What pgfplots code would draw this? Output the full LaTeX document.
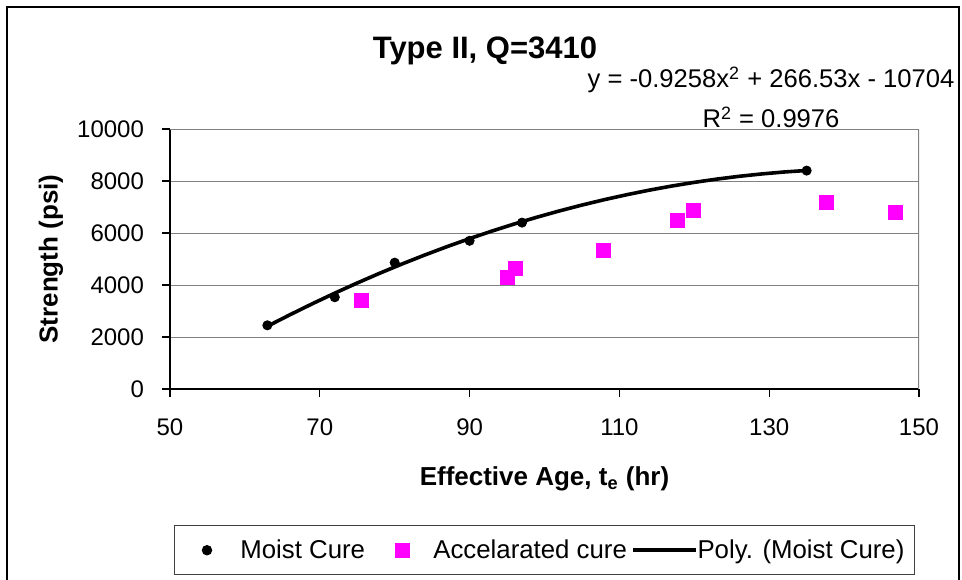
\documentclass[border=0pt]{standalone}
\usepackage{fontspec}
\setmainfont{Liberation Sans}
\usepackage{pgfplots}
\pgfplotsset{compat=1.18}
\definecolor{accel}{RGB}{255,0,255}
\definecolor{gridc}{RGB}{128,128,128}

% Moist-cure cylinders
\pgfplotstableread{
x y
63 2450
72 3530
80 4860
90 5700
97 6400
135 8400
}\moist

% Accelerated-cure cylinders
\pgfplotstableread{
x y
75.6 3400
95.0 4310
96.1 4630
107.9 5320
117.7 6470
119.9 6860
137.7 7160
146.8 6780
}\accel

% Quadratic trend of the moist-cure data
\pgfplotstableread{
x y
63 2413
66 2854
69 3279
72 3687
75 4078
78 4453
81 4811
84 5152
87 5477
90 5785
93 6076
96 6351
99 6609
102 6850
105 7075
108 7283
111 7474
114 7649
117 7807
120 7948
123 8073
126 8181
129 8272
132 8347
135 8405
}\trend

% legend symbols with explicit cell widths
\pgfplotsset{
  dotleg/.style={legend image code/.code={\path (0pt,0pt) (32.3pt,0pt); \draw[##1] plot coordinates {(15.9pt,0pt)};}},
  sqleg/.style={legend image code/.code={\path (0pt,0pt) (33.5pt,0pt); \draw[##1] plot coordinates {(18.5pt,0pt)};}},
  lineleg/.style={legend image code/.code={\path (0pt,0pt) (33.5pt,0pt); \draw[##1] (2pt,0pt) -- (33.5pt,0pt);}},
}

\begin{document}
\begin{tikzpicture}
\useasboundingbox (0pt,0pt) rectangle (481pt,289.5pt);
\draw[black, line width=0.8pt] (3.5pt,-5pt) rectangle (479.5pt,286pt);
\begin{axis}[
  at={(85pt,95pt)}, anchor=south west,
  scale only axis, width=374.5pt, height=130pt,
  xmin=50, xmax=150, ymin=0, ymax=10000,
  xtick={50,70,...,150}, ytick={0,2000,...,10000},
  scaled y ticks=false,
  axis x line*=bottom, axis y line*=left,
  axis line style={black, line width=0.8pt, -},
  tick align=outside,
  major tick length=4pt,
  tick style={black, line width=0.6pt},
  ymajorgrids, grid style={gridc, line width=0.5pt},
  ticklabel style={font=\fontsize{12}{14}\selectfont},
  /pgf/number format/assume math mode=true,
  yticklabel style={/pgf/number format/1000 sep={}, xshift=-5.5pt},
  xticklabel style={yshift=-7.5pt},
  xlabel={Effective Age, t\textsubscript{e} (hr)},
  ylabel={Strength (psi)},
  label style={font=\bfseries\fontsize{13}{15}\selectfont},
  xlabel style={at={(axis description cs:0.5,-0.372)}, anchor=base},
  ylabel style={at={(axis description cs:-0.159,0.5)}, anchor=center},
  legend style={at={(axis description cs:0.00534,-0.523)}, anchor=north west,
    draw=black!75, line width=0.6pt, legend columns=3,
    inner xsep=0pt, inner ysep=6.9pt,
    nodes={inner sep=0pt, font=\fontsize{12.9}{15}\selectfont},
    /tikz/column sep=0pt},
  legend cell align=left,
]
\addplot[only marks, mark=*, mark size=2.3pt, black, dotleg]
  table[x=x, y=y] {\moist};
\addlegendentry{Moist Cure}
\addplot[only marks, mark=square*, mark size=3.5pt, accel, sqleg]
  table[x=x, y=y] {\accel};
\addlegendentry{Accelarated cure}
\addplot[black, line width=1.8pt, no marks, lineleg]
  table[x=x, y=y] {\trend};
\addlegendentry{Poly. (Moist Cure)\kern5pt}
\draw[gridc, line width=0.8pt] (rel axis cs:0,1) -- (rel axis cs:1,1) -- (rel axis cs:1,0);
\end{axis}
\node[anchor=base, font=\bfseries\fontsize{15.5}{18}\selectfont] at (242.5pt,260pt) {Type II, Q=3410};
\node[anchor=base, font=\fontsize{12.8}{15}\selectfont] at (385.5pt,245.5pt) {y = -0.9258x\textsuperscript{2} + 266.53x - 10704};
\node[anchor=base, font=\fontsize{12.8}{15}\selectfont] at (385.5pt,225.5pt) {R\textsuperscript{2} = 0.9976};
\end{tikzpicture}
\end{document}
